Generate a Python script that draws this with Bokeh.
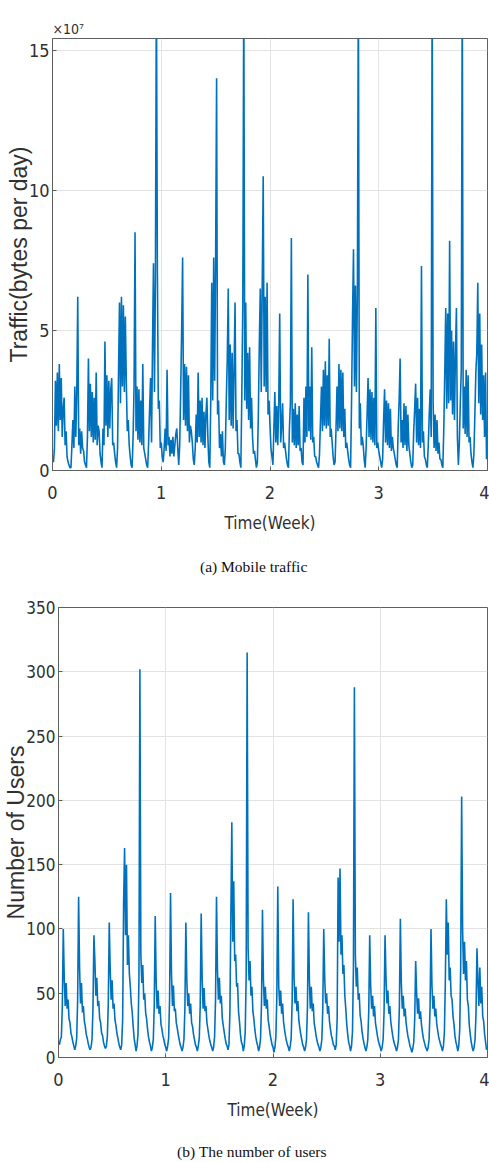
import numpy as np
from bokeh.plotting import figure
from bokeh.models import Range1d, Title, FixedTicker, Div
from bokeh.layouts import column
from bokeh.embed import file_html
from bokeh.resources import INLINE

# ---------------- data (16 samples per day, 7 days per week) ----------------
SAMPLES_PER_WEEK = 112

# Mobile traffic, in units of 1e7 bytes per day
traffic_w1 = [
    0.4, 0.3, 0.8, 3.2, 1.6, 3.5, 1.4, 3.8, 1.8, 3.3, 1.2, 2.2, 2.6, 0.9, 1.4, 0.5,
    0.3, 0.2, 0.1, 0.1, 0.9, 1.8, 0.8, 3.0, 1.2, 2.8, 6.2, 0.9, 1.5, 0.6, 1.4, 0.8,
    0.7, 0.3, 0.2, 0.1, 1.2, 4.0, 1.4, 3.1, 1.2, 2.8, 1.0, 2.6, 1.1, 3.5, 0.9, 1.6,
    1.4, 0.6, 0.3, 0.1, 1.5, 0.9, 4.6, 1.6, 3.4, 1.2, 3.2, 1.5, 2.9, 3.3, 0.9, 1.0,
    0.6, 0.3, 0.1, 0.8, 3.5, 6.0, 2.4, 6.2, 3.0, 5.9, 2.8, 5.5, 3.2, 1.4, 1.8, 0.9,
    0.5, 0.2, 0.1, 1.2, 3.0, 8.5, 1.4, 3.0, 1.1, 2.9, 1.0, 2.5, 0.9, 3.8, 0.8, 0.6,
    0.4, 0.2, 0.1, 1.0, 2.2, 3.3, 1.0, 4.5, 7.4, 2.8, 6.8, 17.5, 7.2, 2.2, 2.5, 0.8,
]
traffic_w2 = [
    1.0, 0.5, 0.3, 0.8, 1.5, 0.7, 3.6, 0.9, 1.2, 0.5, 1.1, 0.6, 1.2, 0.5, 0.9, 1.3,
    1.5, 0.8, 0.2, 0.9, 2.8, 5.0, 7.6, 1.8, 3.8, 1.6, 3.7, 1.4, 3.4, 1.0, 1.6, 1.4,
    1.0, 0.4, 0.2, 0.8, 2.0, 1.0, 3.5, 1.2, 2.5, 1.0, 2.6, 0.9, 2.1, 0.8, 2.0, 2.6,
    1.2, 0.3, 0.1, 2.5, 6.7, 2.5, 7.6, 3.2, 7.5, 14.0, 2.0, 2.5, 0.8, 1.3, 0.5, 1.4,
    0.3, 0.2, 0.8, 2.5, 4.0, 6.5, 1.8, 4.5, 1.6, 4.2, 1.5, 3.6, 6.0, 1.4, 1.8, 0.6,
    0.6, 0.3, 0.1, 2.8, 6.0, 17.5, 2.5, 6.0, 2.2, 4.2, 1.8, 4.4, 1.5, 2.6, 1.2, 0.6,
    0.7, 0.4, 0.1, 0.3, 2.0, 4.5, 6.5, 2.8, 6.6, 10.5, 3.0, 6.2, 2.8, 6.7, 2.0, 2.5,
]
traffic_w3 = [
    1.6, 0.8, 0.5, 0.2, 1.5, 2.8, 1.0, 2.3, 0.9, 2.4, 5.6, 1.0, 1.6, 2.4, 0.8, 1.0,
    0.7, 0.4, 0.2, 0.1, 1.5, 2.4, 8.3, 1.0, 2.2, 0.9, 2.4, 0.8, 2.0, 0.9, 2.3, 0.7,
    0.8, 0.3, 0.2, 2.6, 1.0, 3.0, 1.2, 7.0, 1.4, 3.0, 1.1, 4.4, 1.0, 1.2, 0.5, 0.5,
    0.3, 0.2, 0.1, 0.6, 1.8, 3.0, 1.4, 3.6, 1.6, 3.9, 1.5, 3.4, 1.6, 4.7, 1.2, 1.5,
    1.0, 0.5, 0.2, 0.3, 1.5, 3.0, 1.4, 3.8, 1.5, 3.6, 1.4, 3.5, 1.2, 2.2, 0.8, 1.0,
    0.7, 0.4, 0.2, 0.1, 2.5, 5.5, 7.9, 3.0, 6.6, 2.8, 6.4, 17.5, 1.5, 2.4, 0.9, 1.2,
    0.9, 0.4, 0.1, 0.8, 2.0, 3.3, 1.2, 2.9, 1.1, 2.8, 1.0, 2.6, 0.9, 5.8, 0.8, 1.0,
]
traffic_w4 = [
    0.7, 0.5, 0.3, 0.1, 0.4, 1.8, 2.9, 1.0, 2.5, 0.9, 2.4, 0.8, 2.2, 0.7, 1.2, 0.8,
    0.6, 0.4, 0.2, 0.1, 1.5, 2.5, 4.0, 1.0, 1.8, 0.8, 2.4, 0.9, 2.3, 0.7, 2.0, 0.9,
    0.6, 0.3, 0.1, 0.2, 1.4, 2.2, 3.1, 1.0, 2.6, 0.9, 2.2, 0.8, 7.3, 1.0, 1.4, 0.5,
    0.4, 0.2, 0.1, 0.9, 2.0, 2.9, 1.2, 17.5, 2.4, 0.8, 2.0, 0.7, 1.8, 0.6, 1.0, 0.4,
    0.4, 0.2, 0.1, 1.5, 3.5, 5.8, 2.2, 5.6, 2.4, 8.2, 2.5, 5.0, 2.0, 4.6, 1.8, 4.2,
    5.8, 1.2, 0.2, 1.0, 2.4, 3.6, 17.5, 1.5, 3.0, 1.3, 3.6, 1.2, 3.4, 1.0, 1.2, 0.6,
    0.3, 0.1, 0.6, 2.0, 3.5, 4.2, 6.7, 2.4, 5.6, 2.0, 4.5, 1.8, 3.4, 1.2, 3.5, 0.4,
]

# Number of users
users_w1 = [
    12, 10, 14, 16, 40, 100, 62, 40, 58, 38, 45, 30, 27, 19, 16, 12,
    9, 6, 9, 15, 45, 125, 70, 42, 58, 35, 40, 28, 24, 18, 15, 11,
    8, 6, 8, 14, 38, 95, 75, 48, 62, 40, 44, 30, 27, 19, 17, 12,
    9, 7, 9, 16, 42, 105, 68, 45, 60, 38, 42, 29, 25, 19, 15, 11,
    8, 6, 10, 30, 120, 163, 95, 150, 72, 95, 65, 55, 42, 35, 24, 15,
    10, 5, 9, 18, 60, 302, 80, 58, 72, 45, 50, 35, 30, 22, 16, 12,
    9, 5, 8, 14, 40, 110, 58, 38, 52, 34, 40, 26, 22, 17, 14, 10,
]
users_w2 = [
    8, 5, 9, 15, 45, 128, 65, 40, 56, 36, 38, 27, 23, 18, 14, 10,
    8, 5, 8, 14, 38, 105, 60, 40, 50, 34, 42, 27, 24, 18, 14, 10,
    8, 5, 9, 15, 40, 112, 62, 38, 54, 36, 40, 27, 22, 17, 13, 10,
    8, 5, 8, 16, 45, 125, 68, 45, 62, 42, 48, 31, 25, 20, 15, 11,
    9, 6, 10, 35, 110, 183, 90, 137, 75, 80, 55, 58, 36, 28, 18, 12,
    10, 5, 9, 20, 65, 315, 85, 60, 75, 48, 55, 36, 30, 22, 16, 12,
    9, 5, 8, 15, 42, 115, 60, 40, 55, 38, 45, 29, 24, 18, 14, 10,
]
users_w3 = [
    8, 4, 8, 16, 48, 133, 55, 40, 52, 34, 42, 28, 22, 17, 13, 10,
    8, 5, 9, 15, 44, 123, 62, 42, 55, 36, 44, 29, 23, 18, 14, 10,
    8, 5, 8, 14, 40, 113, 60, 38, 55, 36, 42, 27, 22, 17, 13, 10,
    8, 5, 8, 14, 38, 100, 62, 42, 50, 34, 40, 28, 22, 17, 14, 10,
    9, 6, 10, 30, 140, 90, 147, 80, 95, 65, 72, 48, 38, 26, 18, 12,
    9, 5, 9, 20, 70, 288, 80, 55, 70, 45, 50, 33, 28, 20, 15, 11,
    8, 5, 8, 14, 36, 95, 55, 38, 48, 32, 40, 27, 22, 17, 13, 10,
]
users_w4 = [
    8, 5, 8, 14, 36, 95, 62, 42, 52, 34, 40, 28, 22, 17, 13, 10,
    8, 5, 8, 14, 40, 108, 58, 38, 48, 32, 38, 27, 21, 16, 13, 9,
    7, 4, 7, 12, 30, 75, 50, 34, 46, 30, 36, 26, 20, 15, 12, 9,
    7, 5, 8, 14, 38, 100, 56, 38, 48, 32, 38, 26, 21, 16, 13, 10,
    8, 5, 9, 20, 60, 123, 80, 105, 60, 70, 48, 45, 32, 26, 17, 12,
    9, 5, 9, 22, 70, 203, 100, 65, 90, 60, 75, 45, 40, 25, 18, 12,
    8, 5, 8, 14, 34, 85, 60, 40, 70, 42, 55, 32, 28, 18, 12, 6,
]

week_ticks = [0, 1, 2, 3, 4]
traffic_ticks = [0, 5, 10, 15]
users_ticks = [0, 50, 100, 150, 200, 250, 300, 350]

traffic = np.array(traffic_w1 + traffic_w2 + traffic_w3 + traffic_w4)
users = np.array(users_w1 + users_w2 + users_w3 + users_w4)
t_weeks = np.arange(len(traffic)) / SAMPLES_PER_WEEK
u_weeks = np.arange(len(users)) / SAMPLES_PER_WEEK

LINE = "#0072BD"
AX = "#5f5f5f"
TXT = "#303030"
NARROW = "Liberation Sans Narrow, Arial Narrow, DejaVu Sans Condensed, sans-serif"
SERIF = "'Liberation Serif', 'Times New Roman', serif"


def style(p, xticks, yticks, ylabel, label_standoff, ytick_size):
    p.xaxis.ticker = FixedTicker(ticks=xticks)
    p.yaxis.ticker = FixedTicker(ticks=yticks)
    for ax in (p.xaxis[0], p.yaxis[0]):
        ax.axis_line_color = AX
        ax.major_tick_line_color = AX
        ax.major_tick_in = 4
        ax.major_tick_out = 0
        ax.minor_tick_line_color = None
        ax.major_label_text_font = NARROW
        ax.major_label_text_font_size = "18px"
        ax.major_label_text_color = TXT
        ax.axis_label_text_font_style = "normal"
        ax.axis_label_text_color = TXT
    p.yaxis.major_label_text_font_size = ytick_size
    p.xaxis.axis_label = "Time(Week)"
    p.xaxis.axis_label_text_font = NARROW
    p.xaxis.axis_label_text_font_size = "17px"
    p.xaxis.major_label_standoff = 15
    p.xaxis.axis_label_standoff = 11
    p.yaxis.axis_label = ylabel
    p.yaxis.axis_label_text_font = "Liberation Sans, Arial, sans-serif"
    p.yaxis.axis_label_text_font_size = "23px"
    p.yaxis.major_label_standoff = 3
    p.yaxis.axis_label_standoff = label_standoff
    p.grid.grid_line_color = "#e3e3e3"
    p.grid.grid_line_width = 1
    p.outline_line_color = AX
    p.outline_line_width = 1
    p.background_fill_color = "white"
    p.border_fill_color = "white"


def caption(text, height, pad_top, pad_left):
    html = (f'<div style="padding-top:{pad_top}px;padding-left:{pad_left}px;'
            f'font-family:{SERIF};font-size:15.5px;line-height:18px;'
            f'color:#111111;white-space:nowrap;">{text}</div>')
    return Div(text=html, width=489, height=height, margin=0)


p1 = figure(width=489, height=540, output_backend="svg", toolbar_location=None,
            x_range=Range1d(0, 4), y_range=Range1d(0, 15.42),
            min_border_left=52, min_border_right=2, min_border_top=38,
            min_border_bottom=70, frame_align=False)
p1.line(t_weeks, traffic, line_color=LINE, line_width=1.6)
style(p1, week_ticks, traffic_ticks, "Traffic(bytes per day)", -6, "18px")
p1.add_layout(Title(text="×10⁷", align="left", offset=0, standoff=4,
                    text_font=NARROW, text_font_size="14px",
                    text_font_style="normal", text_color=TXT), "above")

p2 = figure(width=489, height=532, output_backend="svg", toolbar_location=None,
            x_range=Range1d(0, 4), y_range=Range1d(0, 350),
            min_border_left=58, min_border_right=2, min_border_top=17,
            min_border_bottom=64, frame_align=False)
p2.line(u_weeks, users, line_color=LINE, line_width=1.6)
style(p2, week_ticks, users_ticks, "Number of Users", -6, "17px")

cap_a = caption("(a) Mobile traffic", 50, 18, 200)
cap_b = caption("(b) The number of users", 40, 21, 177)

layout = column(p1, cap_a, p2, cap_b, spacing=0)
open("out.html", "w").write(file_html(layout, INLINE))
